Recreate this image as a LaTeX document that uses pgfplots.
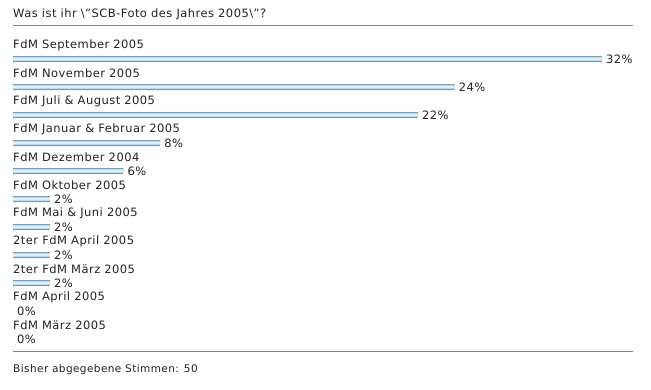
\documentclass[border=0pt]{standalone}
\usepackage{fontspec}
\setmainfont{DejaVu Sans}[LetterSpace=4]
\usepackage{pgfplots}
\usepackage{pgfplotstable}
\pgfplotsset{compat=1.18}
\definecolor{bardark}{HTML}{7A9FB8}
\definecolor{barlight}{HTML}{B9D9EA}
\definecolor{barmid}{HTML}{F2FAFD}
\definecolor{rulegray}{HTML}{808080}
\definecolor{txt}{HTML}{222222}

\pgfplotstableread[col sep=semicolon]{
row;val;lrow;zero;label
0;32;-0.5;0;FdM September 2005
1;24;0.5;0;FdM November 2005
2;22;1.5;0;FdM Juli \& August 2005
3;8;2.5;0;FdM Januar \& Februar 2005
4;6;3.5;0;FdM Dezember 2004
5;2;4.5;0;FdM Oktober 2005
6;2;5.5;0;FdM Mai \& Juni 2005
7;2;6.5;0;2ter FdM April 2005
8;2;7.5;0;2ter FdM März 2005
9;0;8.5;0;FdM April 2005
10;0;9.5;0;FdM März 2005
}\datatable

\begin{document}
\begin{tikzpicture}[x=1pt,y=1pt,font=\fontsize{11.5}{13}\selectfont,text=txt]
\useasboundingbox (0,0) rectangle (651,-389);
\node[anchor=west,inner sep=0pt] at (13,-14) {Was ist ihr \textbackslash\char34 SCB-Foto des Jahres 2005\textbackslash\char34 ?};
\draw[rulegray,line width=1pt] (13,-25) -- (633,-25);
\draw[rulegray,line width=1pt] (13,-351) -- (633,-351);
\node[anchor=west,inner sep=0pt,font=\fontsize{10.5}{12}\selectfont] at (13,-370) {Bisher abgegebene Stimmen: 50};
\begin{axis}[
  at={(13pt,-59pt)}, anchor=origin,
  x=18.4pt, y=-28pt,
  xmin=0, xmax=33, ymin=-1, ymax=10.5,
  hide axis, clip=false,
  /pgf/number format/assume math mode=true,
]
\addplot[xbar, bar width=6pt, bar shift=0pt, draw=none, fill=bardark,
  restrict x to domain=0.5:100]
  table[x=val,y=row]{\datatable};
\addplot[xbar, bar width=3.6pt, bar shift=0pt, draw=none, fill=barlight,
  restrict x to domain=0.5:100]
  table[x=val,y=row]{\datatable};
\addplot[xbar, bar width=1.4pt, bar shift=0pt, draw=none, fill=barmid,
  restrict x to domain=0.5:100]
  table[x=val,y=row]{\datatable};
\addplot[draw=none, mark=none,
  nodes near coords={\pgfmathprintnumber[assume math mode=true]{\pgfplotspointmeta}\%},
  point meta=x,
  nodes near coords style={anchor=west, inner sep=0pt, xshift=4pt, text=txt, font=\fontsize{11.5}{13}\selectfont}]
  table[x=val,y=row]{\datatable};
\addplot[draw=none, mark=none, nodes near coords, point meta=explicit symbolic,
  nodes near coords style={anchor=west, inner sep=0pt, text=txt, font=\fontsize{11.5}{13}\selectfont}]
  table[x=zero,y=lrow,meta=label]{\datatable};
\end{axis}
\end{tikzpicture}
\end{document}
